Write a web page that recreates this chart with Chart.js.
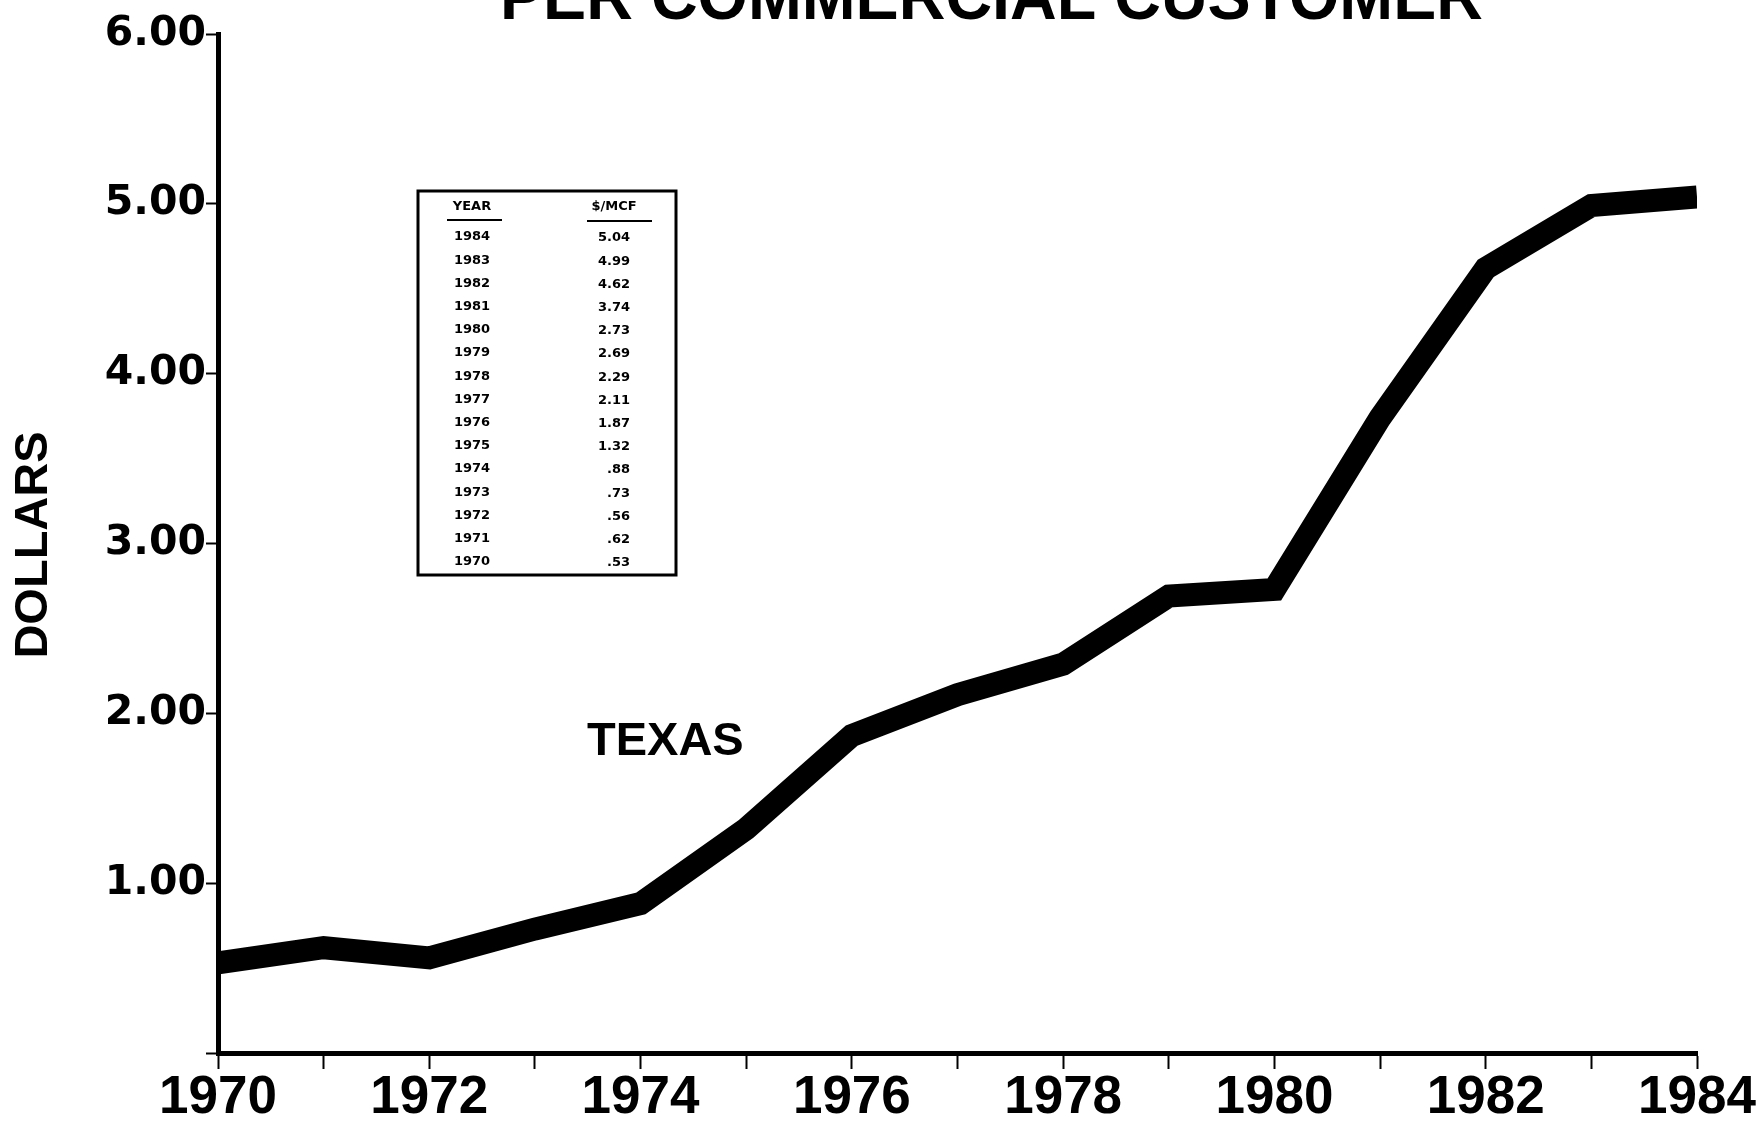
<!DOCTYPE html>
<html>
<head>
<meta charset="utf-8">
<script src="https://cdn.jsdelivr.net/npm/chart.js@4.4.1/dist/chart.umd.min.js"></script>
<style>
  html, body { margin: 0; padding: 0; background: #fff; }
  canvas { display: block; }
</style>
</head>
<body>
<canvas id="c" width="1762" height="1122"></canvas>
<script>
// ---- data ----
const years = [1970, 1971, 1972, 1973, 1974, 1975, 1976, 1977, 1978, 1979, 1980, 1981, 1982, 1983, 1984];
const dollarsPerMcf = [0.53, 0.62, 0.56, 0.73, 0.88, 1.32, 1.87, 2.11, 2.29, 2.69, 2.73, 3.74, 4.62, 4.99, 5.04];
const yTickValues = [0, 1, 2, 3, 4, 5, 6];
const yTickLabels = ['', '1.00', '2.00', '3.00', '4.00', '5.00', '6.00'];
const xLabelYears = [1970, 1972, 1974, 1976, 1978, 1980, 1982, 1984];
const titleText = 'PER COMMERCIAL CUSTOMER';
const yAxisTitle = 'DOLLARS';
const seriesLabel = 'TEXAS';
const tableHeaders = ['YEAR', '$/MCF'];

function fmt(v) {
  const s = v.toFixed(2);
  return v < 1 ? s.slice(1) : s;
}

const decor = {
  id: 'decor',
  afterDraw(chart) {
    const ctx = chart.ctx;
    ctx.save();
    ctx.fillStyle = '#000';
    ctx.strokeStyle = '#000';

    // Title (cut off at top like the scan)
    ctx.font = 'bold 66px "Liberation Sans"';
    const w = ctx.measureText(titleText).width;
    const targetW = 983;
    ctx.save();
    ctx.translate(500, 19);
    ctx.scale(targetW / w, 1);
    ctx.textBaseline = 'alphabetic';
    ctx.textAlign = 'left';
    ctx.fillText(titleText, 0, 0);
    ctx.restore();

    // Y axis title
    ctx.save();
    ctx.translate(34, 545);
    ctx.rotate(-Math.PI / 2);
    ctx.font = 'bold 47px "Liberation Sans"';
    ctx.textAlign = 'center';
    ctx.textBaseline = 'middle';
    ctx.fillText(yAxisTitle, 0, 0);
    ctx.restore();

    // Series label
    ctx.font = 'bold 47px "Liberation Sans"';
    ctx.textAlign = 'left';
    ctx.textBaseline = 'alphabetic';
    ctx.fillText(seriesLabel, 587, 755);

    // Data table
    ctx.lineWidth = 3;
    ctx.strokeRect(418, 191, 258, 384);
    ctx.font = 'bold 13px "DejaVu Sans"';
    ctx.textBaseline = 'middle';
    ctx.textAlign = 'center';
    ctx.fillText(tableHeaders[0], 472, 207);
    ctx.fillText(tableHeaders[1], 614, 207);
    ctx.lineWidth = 2;
    ctx.beginPath();
    ctx.moveTo(447, 220); ctx.lineTo(502, 220);
    ctx.moveTo(587, 221); ctx.lineTo(652, 221);
    ctx.stroke();
    const n = years.length;
    for (let i = 0; i < n; i++) {
      const idx = n - 1 - i;
      const y = 237 + i * 23.2;
      ctx.textAlign = 'center';
      ctx.fillText(String(years[idx]), 472, y);
      ctx.textAlign = 'right';
      ctx.fillText(fmt(dollarsPerMcf[idx]), 630, y + 1);
    }
    ctx.restore();
  }
};

new Chart(document.getElementById('c'), {
  type: 'line',
  data: {
    datasets: [{
      label: seriesLabel,
      data: years.map((y, i) => ({ x: y, y: dollarsPerMcf[i] })),
      borderColor: '#000',
      backgroundColor: '#000',
      borderWidth: 23,
      borderJoinStyle: 'miter',
      borderCapStyle: 'butt',
      pointRadius: 0,
      tension: 0,
      fill: false
    }]
  },
  options: {
    responsive: false,
    animation: false,
    devicePixelRatio: 1,
    layout: { padding: { top: 34, right: 65, bottom: 0, left: 0 } },
    plugins: {
      legend: { display: false },
      title: { display: false },
      tooltip: { enabled: false }
    },
    scales: {
      x: {
        type: 'linear',
        min: 1970,
        max: 1984,
        afterFit: s => { s.height = 69; },
        afterBuildTicks: s => { s.ticks = years.map(v => ({ value: v })); },
        ticks: {
          autoSkip: false,
          maxRotation: 0,
          padding: -2,
          color: '#000',
          font: { family: 'Liberation Sans', weight: 'bold', size: 53 },
          callback: v => xLabelYears.includes(v) ? String(v) : ''
        },
        grid: { drawOnChartArea: false, drawTicks: true, tickLength: 16, tickWidth: 2, tickColor: '#000' },
        border: { display: true, width: 5, color: '#000' }
      },
      y: {
        min: 0,
        max: 6,
        afterFit: s => { s.width = 218; },
        afterBuildTicks: s => { s.ticks = yTickValues.map(v => ({ value: v })); },
        ticks: {
          padding: 0,
          color: '#000',
          font: { family: 'DejaVu Sans', weight: 'bold', size: 41 },
          callback: v => yTickLabels[yTickValues.indexOf(v)]
        },
        grid: { drawOnChartArea: false, drawTicks: true, tickLength: 12, tickWidth: 2, tickColor: '#000' },
        border: { display: true, width: 5, color: '#000' }
      }
    }
  },
  plugins: [decor]
});
</script>
</body>
</html>
